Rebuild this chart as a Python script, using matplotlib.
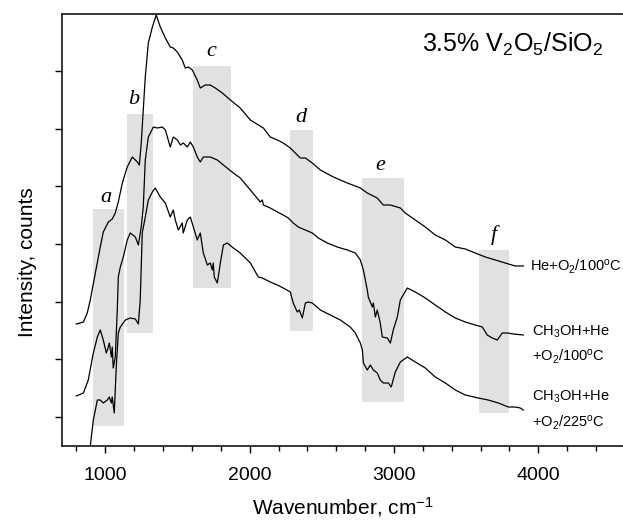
import matplotlib
matplotlib.use("Agg")
import matplotlib.pyplot as plt
import numpy as np

plt.rcParams["font.family"] = ["Liberation Sans", "DejaVu Sans"]
plt.rcParams["mathtext.default"] = "regular"

# spectra (wavenumber in cm-1, intensity in arbitrary units)
top_wn = [799, 827, 848, 875, 896, 931, 965, 986, 1021, 1048, 1069, 1090, 1118, 1152,
          1187, 1222, 1236, 1249, 1263, 1277, 1298, 1326, 1353, 1381, 1416, 1450, 1471,
          1499, 1533, 1554, 1575, 1603, 1637, 1658, 1693, 1727, 1762, 1811, 1866, 1935,
          2005, 2039, 2095, 2143, 2192, 2233, 2282, 2330, 2351, 2386, 2434, 2490, 2580,
          2677, 2767, 2815, 2884, 2926, 2975, 3044, 3078, 3148, 3217, 3286, 3356, 3425,
          3494, 3563, 3633, 3702, 3771, 3840, 3896]
top_int = [122, 123, 124, 133, 146, 173, 199, 214, 224, 227, 233, 244, 263, 279,
           289, 284, 281, 303, 336, 369, 403, 419, 431, 419, 408, 399, 398,
           394, 386, 378, 379, 376, 366, 358, 361, 361, 358, 353, 346, 338,
           326, 323, 318, 309, 306, 303, 298, 291, 288, 288, 283, 276, 269,
           263, 258, 253, 248, 241, 241, 238, 233, 226, 219, 211, 206, 199,
           197, 193, 189, 186, 183, 180, 180]

mid_wn = [799, 848, 882, 917, 945, 965, 986, 1007, 1021, 1028, 1042, 1048, 1055, 1069,
          1083, 1090, 1104, 1125, 1152, 1173, 1208, 1229, 1249, 1263, 1277, 1298, 1333,
          1360, 1395, 1416, 1450, 1471, 1499, 1520, 1540, 1568, 1589, 1610, 1637, 1658,
          1679, 1727, 1776, 1818, 1887, 1935, 2005, 2074, 2088, 2095, 2143, 2192, 2233,
          2268, 2302, 2337, 2386, 2434, 2476, 2538, 2607, 2677, 2732, 2767, 2788, 2815,
          2822, 2850, 2857, 2871, 2884, 2905, 2919, 2954, 2975, 2995, 3023, 3044, 3092,
          3148, 3217, 3286, 3356, 3425, 3494, 3563, 3612, 3646, 3681, 3716, 3750, 3785,
          3827, 3896]
mid_int = [50, 53, 66, 93, 109, 116, 106, 93, 99, 103, 89, 99, 78, 89,
           136, 169, 179, 189, 206, 213, 209, 201, 219, 239, 286, 309, 319,
           318, 319, 316, 299, 309, 306, 301, 303, 299, 304, 299, 289, 284,
           289, 289, 286, 281, 273, 268, 256, 244, 246, 241, 238, 234, 231,
           228, 223, 219, 216, 213, 208, 203, 199, 196, 193, 186, 176, 156,
           149, 139, 143, 129, 136, 123, 109, 108, 103, 116, 129, 146, 158,
           154, 148, 141, 134, 128, 124, 121, 119, 111, 108, 106, 113, 113,
           112, 111]

low_wn = [875, 896, 917, 945, 965, 986, 1014, 1028, 1042, 1048, 1062, 1076, 1090, 1104,
          1139, 1173, 1208, 1229, 1242, 1256, 1277, 1298, 1326, 1346, 1381, 1416, 1450,
          1471, 1485, 1506, 1533, 1540, 1568, 1589, 1610, 1637, 1658, 1679, 1707, 1727,
          1741, 1748, 1755, 1776, 1797, 1818, 1845, 1887, 1935, 2005, 2060, 2088, 2143,
          2192, 2233, 2282, 2302, 2330, 2344, 2365, 2386, 2406, 2434, 2490, 2559, 2628,
          2697, 2732, 2767, 2781, 2788, 2815, 2836, 2857, 2884, 2905, 2926, 2961, 2981,
          3009, 3044, 3092, 3148, 3217, 3286, 3356, 3425, 3494, 3584, 3653, 3723, 3792,
          3840, 3875, 3896]
low_int = [-14, 0, 26, 46, 46, 43, 46, 49, 43, 49, 33, 79, 113, 119,
           126, 128, 127, 122, 146, 213, 229, 246, 254, 258, 249, 243, 229,
           236, 226, 216, 223, 213, 226, 229, 219, 206, 213, 193, 181, 183,
           176, 183, 169, 163, 183, 201, 203, 198, 193, 183, 169, 168, 164,
           161, 158, 154, 143, 134, 136, 128, 143, 144, 143, 136, 131, 126,
           119, 113, 103, 96, 83, 76, 81, 76, 73, 66, 63, 63, 59,
           74, 84, 89, 84, 78, 69, 63, 56, 51, 48, 46, 43, 39,
           39, 38, 36]

# shaded regions a-f: wavenumber span and intensity span
band_names = ["a", "b", "c", "d", "e", "f"]
band_lo = [917, 1152, 1610, 2282, 2781, 3592]
band_hi = [1132, 1333, 1873, 2441, 3072, 3800]
band_bottom = [20, 113, 158, 115, 44, 33]
band_top = [237, 332, 380, 316, 268, 196]
label_x = [1007, 1194, 1734, 2358, 2905, 3695]
label_y = [249, 346, 394, 328, 281, 211]

fig = plt.figure(figsize=(6.23, 5.22), dpi=100)
ax = fig.add_axes([62 / 623, 76 / 522, 561 / 623, 432 / 522])

for lo, hi, b, t in zip(band_lo, band_hi, band_bottom, band_top):
    ax.fill_between([lo, hi], b, t, color="#e0e1e0", lw=0, zorder=1)
for name, x, y in zip(band_names, label_x, label_y):
    ax.text(x, y, name, family="Liberation Serif", style="italic", fontsize=16,
            ha="center", va="center")

for wn, inten in [(top_wn, top_int), (mid_wn, mid_int), (low_wn, low_int)]:
    ax.plot(wn, inten, color="black", lw=0.9, zorder=3)

ax.text(3820, 402, "3.5% V$_2$O$_5$/SiO$_2$", fontsize=18, ha="center", va="center")
ax.text(3945, 179, "He+O$_2$/100$^o$C", fontsize=10.5, va="center")
ax.text(3958, 114, "CH$_3$OH+He", fontsize=10.5, va="center")
ax.text(3958, 89, "+O$_2$/100$^o$C", fontsize=10.5, va="center")
ax.text(3958, 49, "CH$_3$OH+He", fontsize=10.5, va="center")
ax.text(3958, 23, "+O$_2$/225$^o$C", fontsize=10.5, va="center")

ax.set_xlim(700, 700 + 561 * 6.928)
ax.set_ylim(0, 432)
ax.set_xticks([1000, 2000, 3000, 4000])
ax.set_xticks(np.arange(800, 4600, 200), minor=True)
ax.set_yticks(np.arange(29, 432, 57.7))
ax.set_yticklabels([])
ax.tick_params(axis="x", which="major", direction="out", length=5, width=1,
               labelsize=14, pad=10)
ax.tick_params(axis="x", which="minor", direction="out", length=3.5, width=1)
ax.tick_params(axis="y", direction="out", length=5, width=1)
ax.spines["right"].set_visible(False)
for s in ["left", "top", "bottom"]:
    ax.spines[s].set_linewidth(1.1)

ax.set_xlabel("Wavenumber, cm$^{-1}$", fontsize=15, labelpad=8)
ax.set_ylabel("Intensity, counts", fontsize=15)
ax.yaxis.set_label_coords(-0.045, 0.426)

fig.savefig("out.png", dpi=100)
